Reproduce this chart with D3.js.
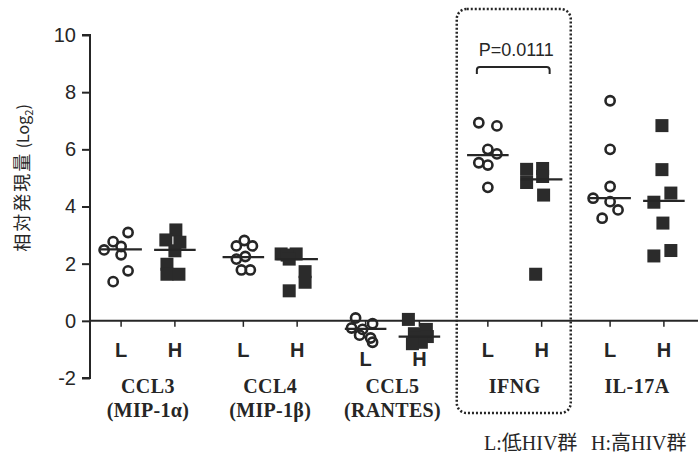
<!DOCTYPE html>
<html><head><meta charset="utf-8">
<script src="https://cdn.jsdelivr.net/npm/d3@7"></script>
<style>body{margin:0;background:#fff}svg{display:block}</style>
</head><body>
<script>
// ---- data ----
const categories = ["CCL3", "CCL4", "CCL5", "IFNG", "IL-17A"];
const subLabels = ["(MIP-1α)", "(MIP-1β)", "(RANTES)", "", ""];
const groupLabels = ["L", "H"];
const yTicks = [-2, 0, 2, 4, 6, 8, 10];

const lowValues = [
  [3.09, 2.77, 2.48, 2.6, 2.31, 1.75, 1.37],
  [2.62, 2.81, 2.62, 2.16, 2.25, 1.78, 1.78],
  [0.1, -0.1, -0.25, -0.3, -0.5, -0.6, -0.75],
  [6.93, 6.82, 6.0, 5.84, 5.53, 5.45, 4.67],
  [7.7, 6.0, 4.7, 4.29, 4.17, 3.88, 3.59]
];
const lowJitter = [
  [0.057, -0.065, -0.139, 0, 0, 0.057, -0.065],
  [-0.057, 0.008, 0.074, -0.057, 0.016, -0.016, 0.057],
  [-0.082, 0.057, -0.115, -0.025, -0.049, 0.041, 0.057],
  [-0.074, 0.074, 0, 0.074, -0.074, 0, 0],
  [0, 0, 0, -0.139, 0, 0.065, -0.065]
];
const highValues = [
  [3.18, 2.83, 2.75, 2.45, 1.98, 1.63, 1.63],
  [2.34, 2.34, 2.3, 2.16, 1.72, 1.35, 1.05],
  [0.05, -0.3, -0.45, -0.55, -0.6, -0.75, -0.8],
  [5.33, 5.3, 5.05, 4.84, 4.4, 1.63],
  [6.83, 5.29, 4.47, 4.15, 3.42, 2.46, 2.27]
];
const highJitter = [
  [0.008, -0.074, 0.041, 0, -0.065, -0.065, 0.033],
  [-0.131, -0.008, -0.082, -0.065, 0.065, 0.065, -0.065],
  [-0.09, 0.057, -0.041, 0.065, -0.033, 0.016, -0.057],
  [0.008, -0.123, 0.008, -0.123, 0.016, -0.049],
  [-0.016, -0.016, 0.057, -0.082, -0.008, 0.057, -0.082]
];
const lowMedians = [2.5, 2.23, -0.28, 5.8, 4.29];
const highMedians = [2.48, 2.16, -0.55, 4.95, 4.2];
const pText = "P=0.0111";
const legendTexts = ["L:低HIV群", "H:高HIV群"];
const yTitle = "相対発現量";

// ---- drawing ----
const W = 698, H = 456;
const ink = "#262626";
const svg = d3.select("body").append("svg").attr("width", W).attr("height", H);

const x = d3.scaleLinear().domain([0, 4]).range([148, 637]);
const y = d3.scaleLinear().domain([-2, 10]).range([378, 35]);
const off = 0.22;
const axisX = 90;

// zero line
svg.append("line").attr("x1", axisX).attr("x2", W).attr("y1", y(0)).attr("y2", y(0))
  .attr("stroke", ink).attr("stroke-width", 2);

// small ticks on zero line
categories.forEach((c, i) => {
  [-off, off].forEach(o => {
    svg.append("line").attr("x1", x(i + o)).attr("x2", x(i + o))
      .attr("y1", y(0)).attr("y2", y(0) + 6).attr("stroke", ink).attr("stroke-width", 1.5);
  });
});

// y axis
const yAxis = d3.axisLeft(y).tickValues(yTicks).tickSize(8).tickPadding(6).tickFormat(d => String(d));
const ga = svg.append("g").attr("transform", `translate(${axisX},0)`).call(yAxis);
ga.select(".domain").attr("stroke", ink).attr("stroke-width", 2)
  .attr("d", `M-8,${y(10)}H0V${y(-2)}H-8`);
ga.selectAll(".tick line").attr("stroke", ink).attr("stroke-width", 2);
ga.selectAll(".tick text").attr("fill", ink)
  .style("font-family", "'Liberation Sans', Arial, sans-serif").style("font-size", "20px");

// y title
const yt = svg.append("text").attr("transform", `translate(29,178) rotate(-90)`)
  .attr("text-anchor", "middle").attr("fill", ink)
  .style("font-family", "'Noto Sans CJK JP', sans-serif").style("font-size", "18px");
yt.append("tspan").style("letter-spacing", "2px").text(yTitle);
yt.append("tspan").style("font-size", "16px").text(" (Log");
yt.append("tspan").attr("dy", 4).style("font-size", "11px").text("2");
yt.append("tspan").attr("dy", -4).style("font-size", "16px").text(")");

// dotted box around IFNG
const iI = categories.indexOf("IFNG");
svg.append("rect").attr("x", x(iI) - 58).attr("y", 9).attr("width", 114).attr("height", 404)
  .attr("rx", 10).attr("ry", 10)
  .attr("fill", "none").attr("stroke", ink).attr("stroke-width", 2.5).attr("stroke-dasharray", "2,2");

// p-value bracket
const bx1 = x(iI - off) - 11, bx2 = x(iI + off) + 8, by = 67;
svg.append("path").attr("d", `M${bx1},${by+7} V${by+3} Q${bx1},${by} ${bx1+3},${by} H${bx2-3} Q${bx2},${by} ${bx2},${by+3} V${by+7}`)
  .attr("fill", "none").attr("stroke", ink).attr("stroke-width", 2);
svg.append("text").attr("x", (bx1 + bx2) / 2 + 3).attr("y", 56).attr("text-anchor", "middle")
  .attr("fill", ink).style("font-family", "'Liberation Sans', Arial, sans-serif").style("font-size", "18px")
  .text(pText);

// points
const sq = 13;
categories.forEach((c, i) => {
  const g = svg.append("g");
  g.selectAll("circle").data(lowValues[i]).join("circle")
    .attr("cx", (d, k) => x(i - off + lowJitter[i][k]))
    .attr("cy", d => y(d)).attr("r", 4.6)
    .attr("fill", "none").attr("stroke", ink).attr("stroke-width", 2.6);
  g.selectAll("rect").data(highValues[i]).join("rect")
    .attr("x", (d, k) => x(i + off + highJitter[i][k]) - sq / 2)
    .attr("y", d => y(d) - sq / 2).attr("width", sq).attr("height", sq)
    .attr("fill", "#2b2b2b");
  // median lines
  [[lowMedians[i], -off], [highMedians[i], off]].forEach(([m, o]) => {
    g.append("line").attr("x1", x(i + o - 0.17)).attr("x2", x(i + o + 0.17))
      .attr("y1", y(m)).attr("y2", y(m)).attr("stroke", ink).attr("stroke-width", 2.2);
  });
  // L / H labels
  const ly = c === "CCL5" ? 366 : 357;
  groupLabels.forEach((t, k) => {
    svg.append("text").attr("x", x(i + (k ? off : -off))).attr("y", ly)
      .attr("text-anchor", "middle").attr("fill", ink)
      .style("font-family", "'Liberation Sans', Arial, sans-serif").style("font-weight", "bold")
      .style("font-size", "20px").text(t);
  });
  // category labels
  svg.append("text").attr("x", x(i)).attr("y", 393).attr("text-anchor", "middle").attr("fill", ink)
    .style("font-family", "'Liberation Serif', 'Times New Roman', serif").style("font-weight", "bold")
    .style("font-size", "20px").style("letter-spacing", "0.5px").text(c);
  if (subLabels[i]) {
    svg.append("text").attr("x", x(i)).attr("y", 417).attr("text-anchor", "middle").attr("fill", ink)
      .style("font-family", "'Liberation Serif', 'Times New Roman', serif").style("font-weight", "bold")
      .style("font-size", "20px").style("letter-spacing", "0.3px").text(subLabels[i]);
  }
});

// legend
[[484, legendTexts[0]], [591, legendTexts[1]]].forEach(([lx, t]) => {
  svg.append("text").attr("x", lx).attr("y", 450).attr("fill", ink)
    .style("font-family", "'Liberation Serif', 'Noto Sans CJK JP', serif").style("font-size", "20px").text(t);
});
</script>
</body></html>
